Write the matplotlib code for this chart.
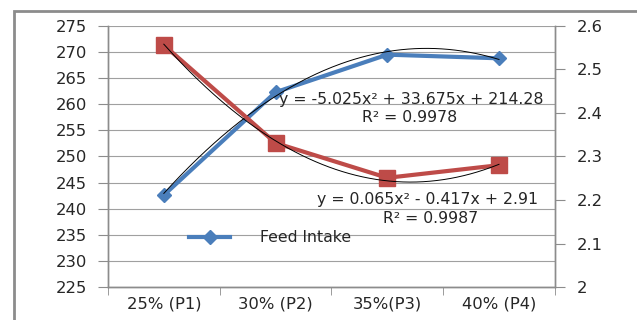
import numpy as np
import matplotlib.pyplot as plt
from matplotlib.patches import Rectangle

# categories and readings
categories = ['25% (P1)', '30% (P2)', '35%(P3)', '40% (P4)']
feed_intake = [242.6, 262.3, 269.5, 268.8]
fcr = [2.556, 2.331, 2.251, 2.280]

# trendline coefficients as printed on the chart
fi_coef = [-5.025, 33.675, 214.28]
fcr_coef = [0.065, -0.417, 2.91]

left_ticks = [225, 230, 235, 240, 245, 250, 255, 260, 265, 270, 275]
right_ticks = [2.0, 2.1, 2.2, 2.3, 2.4, 2.5, 2.6]

blue = '#4a7ebb'
red = '#be4b48'
grid_c = '#a0a0a0'
axis_c = '#8c8c8c'
font = 'DejaVu Sans'

def main():
    fig = plt.figure(figsize=(6.37, 3.2), dpi=100)
    ax = fig.add_axes([0.1695, 0.103, 0.7015, 0.816])
    ax2 = ax.twinx()

    x = np.arange(1, len(categories) + 1)

    # gray outer chart frame (cropped)
    fig.patches.append(Rectangle((14 / 637, -0.1), 1.2, 1 - 10.5 / 320 + 0.1,
                                 transform=fig.transFigure, fill=False,
                                 edgecolor='#8c8c8c', linewidth=2))

    # feed intake on left axis
    ax.plot(x, feed_intake, color=blue, linewidth=3, marker='D', markersize=7.5,
            label='Feed Intake', zorder=3)
    xs = np.linspace(1, 4, 200)
    ax.plot(xs, np.polyval(fi_coef, xs), color='black', linewidth=0.7, zorder=4)

    # fcr on right axis
    ax2.plot(x, fcr, color=red, linewidth=3, marker='s', markersize=12, zorder=3)
    ax2.plot(xs, np.polyval(fcr_coef, xs), color='black', linewidth=0.7, zorder=4)

    ax.set_xlim(0.5, 4.5)
    ax.set_ylim(225, 275)
    ax2.set_ylim(2.0, 2.6)
    ax.set_yticks(left_ticks)
    ax2.set_yticks(right_ticks)
    ax2.set_yticklabels(['2', '2.1', '2.2', '2.3', '2.4', '2.5', '2.6'])
    ax.set_xticks(x)
    ax.set_xticklabels(categories)
    ax.set_xticks(np.arange(0.5, 5, 1), minor=True)
    ax.tick_params(axis='x', which='major', length=0, pad=7)
    ax.tick_params(axis='x', which='minor', length=6, color=axis_c, direction='out')
    ax.tick_params(axis='y', length=7, color=axis_c, pad=8)
    ax2.tick_params(axis='y', length=7, color=axis_c, pad=9)
    for a in (ax, ax2):
        for lab in a.get_xticklabels() + a.get_yticklabels():
            lab.set_fontsize(11.8)
            lab.set_color('#262626')
            lab.set_family(font)
        a.spines['top'].set_visible(False)
        for s in ('left', 'right', 'bottom'):
            a.spines[s].set_color(axis_c)
            a.spines[s].set_linewidth(1)

    ax.yaxis.grid(True, color=grid_c, linewidth=0.8)
    ax.set_axisbelow(True)

    # equations
    ax.text(2.03, 260.9, 'y = -5.025x² + 33.675x + 214.28', fontsize=11.3,
            color='#262626', family=font, va='center', zorder=5)
    ax.text(3.2, 257.4, 'R² = 0.9978', fontsize=11.3, color='#262626',
            family=font, va='center', ha='center', zorder=5)
    ax.text(2.37, 241.8, 'y = 0.065x² - 0.417x + 2.91', fontsize=11.3,
            color='#262626', family=font, va='center', zorder=5)
    ax.text(3.39, 238.2, 'R² = 0.9987', fontsize=11.3, color='#262626',
            family=font, va='center', ha='center', zorder=5)

    leg = ax.legend(loc='center left', bbox_to_anchor=(0.15, 0.188), frameon=False,
                    prop={'family': font, 'size': 11.3}, handlelength=2.6,
                    handletextpad=1.9)
    for t in leg.get_texts():
        t.set_color('#262626')

    fig.savefig('out.png', dpi=100)

if __name__ == "__main__":
    main()
